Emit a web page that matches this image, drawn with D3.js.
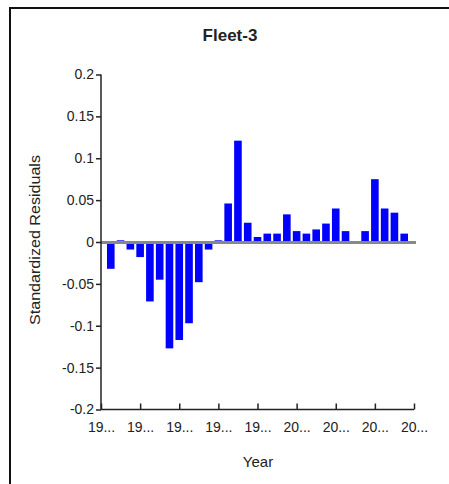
<!DOCTYPE html>
<html><head><meta charset="utf-8">
<script src="https://cdn.jsdelivr.net/npm/d3@7"></script>
<style>
body{margin:0;background:#fff;}
text{font-family:"Liberation Sans",Arial,sans-serif;fill:#222;}
</style></head>
<body>
<svg id="chart" width="449" height="484"></svg>
<script>
const title = "Fleet-3";
const years = d3.range(1981, 2012);
const residuals = [-0.032, 0.002, -0.009, -0.018, -0.071, -0.045, -0.127, -0.117, -0.097, -0.048,
  -0.009, 0.002, 0.046, 0.121, 0.023, 0.006, 0.010, 0.010, 0.033, 0.013,
  0.010, 0.015, 0.022, 0.040, 0.013, -0.002, 0.013, 0.075, 0.040, 0.035, 0.010];
const xTickValues = [1980, 1984, 1988, 1992, 1996, 2000, 2004, 2008, 2012];
const xTickLabels = ["19...", "19...", "19...", "19...", "19...", "20...", "20...", "20...", "20..."];
const yTicks = [-0.2, -0.15, -0.1, -0.05, 0, 0.05, 0.1, 0.15, 0.2];
const yTickLabels = ["-0.2", "-0.15", "-0.1", "-0.05", "0", "0.05", "0.1", "0.15", "0.2"];

const svg = d3.select("#chart");
// frame
svg.append("line").attr("x1",10).attr("x2",449).attr("y1",8).attr("y2",8).attr("stroke","#111").attr("stroke-width",2);
svg.append("line").attr("x1",10).attr("x2",10).attr("y1",7).attr("y2",484).attr("stroke","#111").attr("stroke-width",2);

const x = d3.scaleLinear().domain([1980, 2012]).range([101, 414]);
const y = d3.scaleLinear().domain([-0.2, 0.2]).range([409.5, 74.5]);

const barW = 7.6;
svg.append("g").selectAll("rect").data(years).join("rect")
  .attr("x", (d) => x(d) - barW/2)
  .attr("width", barW)
  .attr("y", (d,i) => y(Math.max(0, residuals[i])))
  .attr("height", (d,i) => Math.abs(y(residuals[i]) - y(0)))
  .attr("fill", (d,i) => residuals[i] < 0 && residuals[i] > -0.004 ? "#00008b" : "#0000ff");

// zero line
svg.append("line").attr("x1", x(1980)).attr("x2", x(2012)+2).attr("y1", y(0)+0.5).attr("y2", y(0)+0.5)
  .attr("stroke","#888").attr("stroke-width",3);

const yAxis = svg.append("g").attr("transform","translate(101,0)")
  .call(d3.axisLeft(y).tickValues(yTicks).tickFormat((d,i) => yTickLabels[i]).tickSize(5).tickPadding(2));
const xAxis = svg.append("g").attr("transform","translate(0,409.5)")
  .call(d3.axisBottom(x).tickValues(xTickValues).tickFormat((d,i) => xTickLabels[i]).tickSize(-6).tickPadding(13));
[yAxis, xAxis].forEach(a => {
  a.select(".domain").attr("stroke","#222").attr("stroke-width",1.5);
  a.selectAll(".tick line").attr("stroke","#222").attr("stroke-width",1.5);
  a.selectAll(".tick text").style("font-size","14px").attr("fill","#222").style("font-family","Liberation Sans, Arial, sans-serif");
});
yAxis.select(".domain").attr("d","M0,74.5V409.5");
xAxis.select(".domain").attr("d","M101,0H414");

svg.append("text").attr("x", 230).attr("y", 41).attr("text-anchor","middle")
  .style("font-size","17px").style("font-weight","bold").text(title);
svg.append("text").attr("x", 258).attr("y", 467).attr("text-anchor","middle")
  .style("font-size","15px").text("Year");
svg.append("text").attr("transform","translate(40,240) rotate(-90)").attr("text-anchor","middle")
  .attr("textLength", 170).attr("lengthAdjust","spacingAndGlyphs")
  .style("font-size","15px").text("Standardized Residuals");
</script>
</body></html>
